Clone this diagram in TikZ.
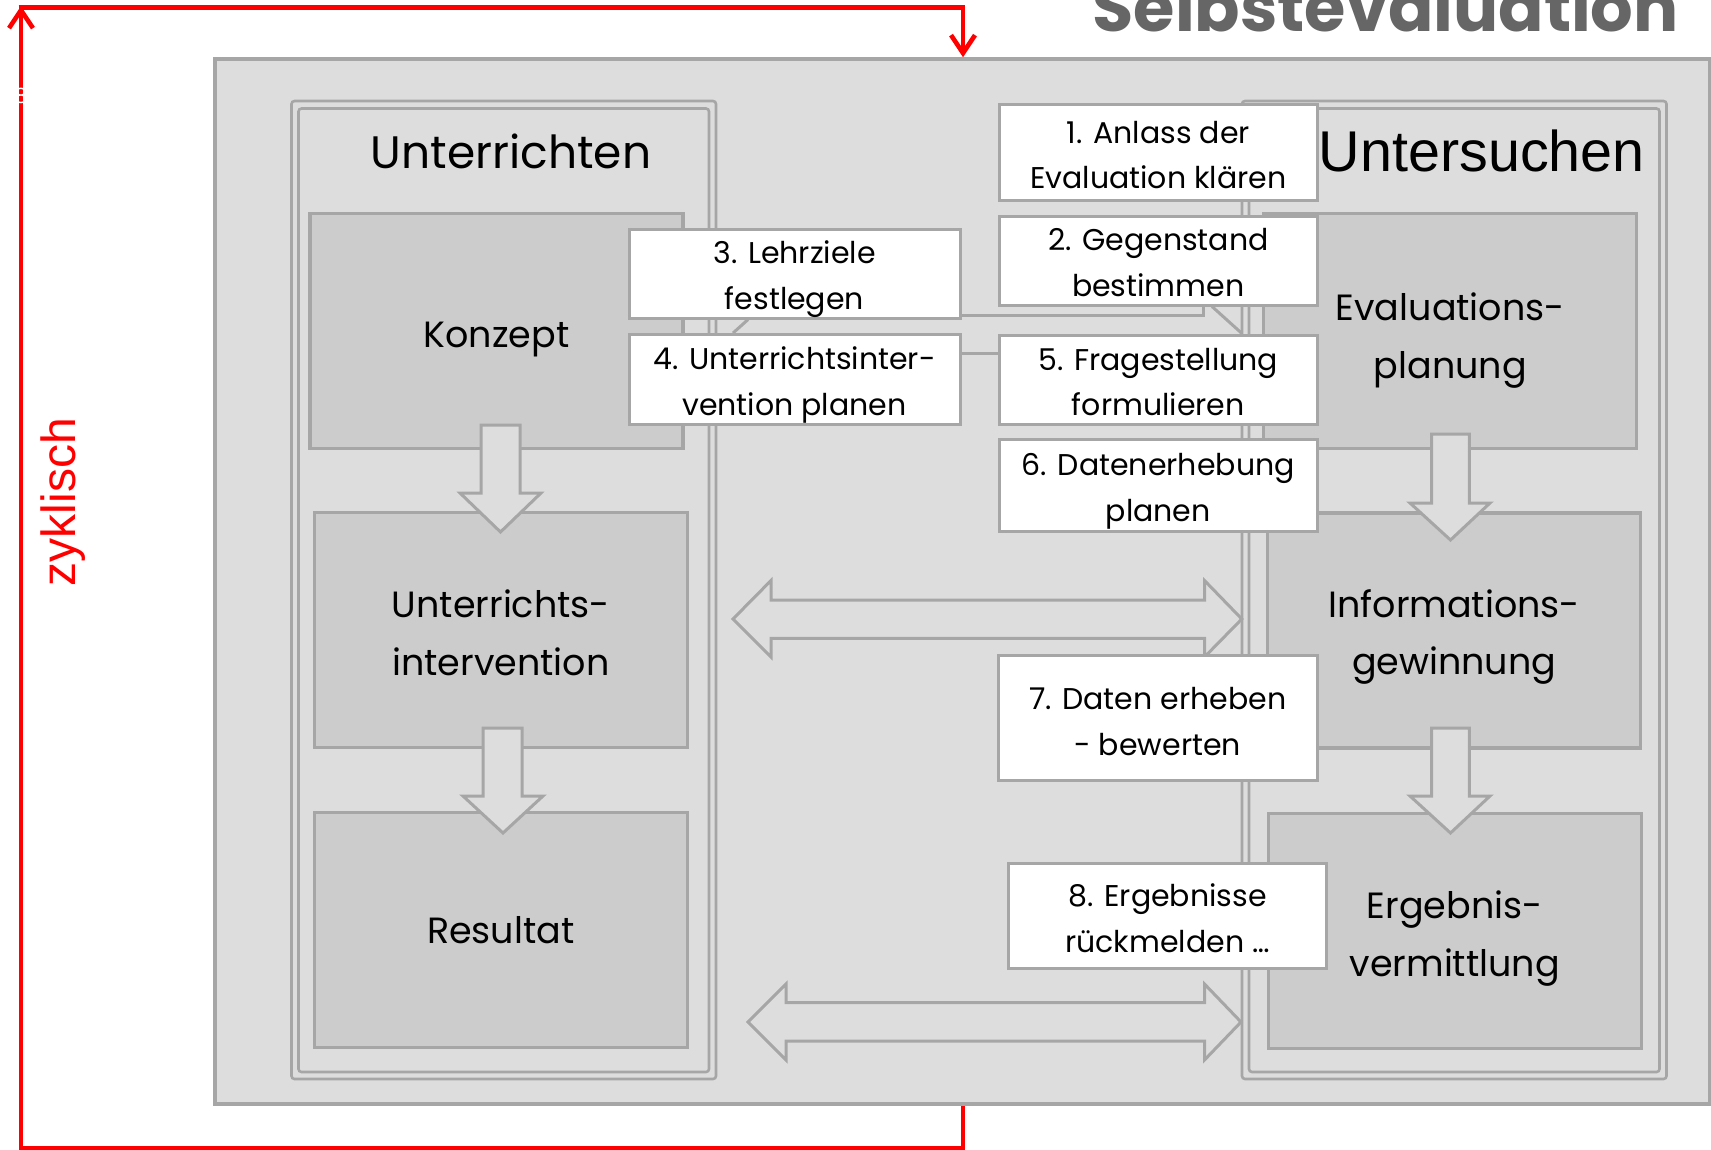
\documentclass[tikz,border=0pt]{standalone}
\usepackage{fontspec}
\setmainfont{Poppins}
\newfontfamily\arialf{Liberation Sans}
\usetikzlibrary{arrows.meta,calc}
\definecolor{bgfill}{HTML}{DDDDDD}
\definecolor{boxfill}{HTML}{CCCCCC}
\definecolor{edge}{HTML}{A6A6A6}
\definecolor{titlegray}{HTML}{666666}
\definecolor{cycred}{HTML}{FF0000}
\begin{document}
\begin{tikzpicture}[x=1pt,y=-1pt,
  bigbox/.style={draw=edge,fill=boxfill,line width=3.2pt,minimum width=373pt,minimum height=235pt,inner sep=0pt},
  bigtext/.style={inner sep=0pt,align=center,font=\fontsize{36.5}{57.8}\selectfont},
  stepbox/.style={draw=edge,fill=white,line width=3pt,inner sep=0pt,minimum width=317.5pt},
  steptext/.style={inner sep=0pt,align=center,font=\fontsize{30}{45.8}\selectfont},
  blockarrow/.style={draw=edge,fill=bgfill,line width=3pt,line join=miter},
  frameline/.style={draw=edge,line width=2.6pt,rounded corners=3pt},
  conn/.style={draw=edge,line width=3pt},
  cycline/.style={draw=cycred,line width=4.6pt}
]
\useasboundingbox (0,0) rectangle (1711,1149);
\fill[white] (0,0) rectangle (1711,1149);

% title
\node[anchor=base east,text=titlegray,inner sep=0pt,font=\fontsize{67}{67}\selectfont\bfseries] (title) at (1679,31.5) {Selbstevaluation};

% outer frame
\node[draw=edge,fill=bgfill,line width=3.5pt,inner sep=0pt,minimum width=1494.5pt,minimum height=1045pt] (frame) at (962.25,581.5) {};

% column frames
\draw[frameline] (291.5,101) rectangle (716,1079);
\draw[frameline] (298.5,108.5) rectangle (709,1072);
\draw[frameline] (1242,101) rectangle (1666.5,1079);
\draw[frameline] (1249,108.5) rectangle (1659.5,1072);

% column titles
\node[font=\fontsize{45.5}{45.5}\selectfont] (tunt) at (511,151.8) {Unterrichten};
\node[font=\arialf\fontsize{57.5}{57.5}\selectfont] (tuntersuchen) at (1481.8,150.6) {Untersuchen};

% big boxes
\node[bigbox] (konzept) at (496.5,331.2) {};
\node[bigbox] (interv) at (500.9,629.6) {};
\node[bigbox] (result) at (500.8,930.2) {};
\node[bigbox] (evalpl) at (1450.3,331.2) {};
\node[bigbox] (info) at (1454.2,630.5) {};
\node[bigbox] (ergeb) at (1454.8,931.2) {};
\node[bigtext] (konzeptT) at ($(konzept.center)+(0,8.7)$) {Konzept};
\node[bigtext] (intervT) at ($(interv.center)+(0,3.3)$) {Unterrichts-\\intervention};
\node[bigtext] (resultT) at (result.center) {Resultat};
\node[bigtext] (evalplT) at ($(evalpl.center)+(0,9.3)$) {Evaluations-\\planung};
\node[bigtext] (infoT) at ($(info.center)+(0,6.5)$) {Informations-\\gewinnung};
\node[bigtext] (ergebT) at ($(ergeb.center)+(0,7)$) {Ergebnis-\\vermittlung};

% block arrows (down)
\draw[blockarrow] (481,425) -- (520,425) -- (520,493) -- (541,493) -- (500.5,532) -- (460,493) -- (481,493) -- cycle;
\draw[blockarrow] (483,728) -- (522,728) -- (522,796) -- (543,796) -- (503,833) -- (463,796) -- (483,796) -- cycle;
\draw[blockarrow] (1431.7,434) -- (1469.3,434) -- (1469.3,503) -- (1490,503) -- (1450.5,540) -- (1410,503) -- (1431.7,503) -- cycle;
\draw[blockarrow] (1431.7,728) -- (1469.3,728) -- (1469.3,796) -- (1490,796) -- (1450.5,833) -- (1410,796) -- (1431.7,796) -- cycle;

% block arrows (double horizontal)
\draw[blockarrow] (733,619) -- (771,580.5) -- (771,600) -- (1204.5,600) -- (1204.5,580.5) -- (1241.8,619) -- (1204.5,657) -- (1204.5,638.4) -- (771,638.4) -- (771,657) -- cycle;
\draw[blockarrow] (748,1022) -- (786,984) -- (786,1002.7) -- (1204.5,1002.7) -- (1204.5,984) -- (1241,1022) -- (1204.5,1060) -- (1204.5,1041) -- (786,1041) -- (786,1060) -- cycle;

% step boxes
\node[stepbox,minimum height=96pt] (s1) at (1158.3,152.8) {};
\node[stepbox,minimum height=89pt] (s2) at (1158.3,260.5) {};
\node[stepbox,minimum width=331pt,minimum height=88.5pt] (s3) at (794.5,273.8) {};
\node[stepbox,minimum width=331pt,minimum height=89.5pt] (s4) at (794.5,379.3) {};
\node[stepbox,minimum height=89.5pt] (s5) at (1158.3,379.8) {};
\node[stepbox,minimum height=91.6pt] (s6) at (1158.3,485.6) {};
\node[stepbox,minimum width=318.6pt,minimum height=124.4pt] (s7) at (1157.7,718) {};
\node[stepbox,minimum width=318.6pt,minimum height=104.5pt] (s8) at (1167.6,915.8) {};
\node[steptext] (s1T) at ($(s1.center)+(0,2.2)$) {1. Anlass der\\Evaluation klären};
\node[steptext] (s2T) at ($(s2.center)+(0,2.2)$) {2. Gegenstand\\bestimmen};
\node[steptext] (s3T) at ($(s3.center)+(0,5.5)$) {3. Lehrziele\\festlegen};
\node[steptext] (s4T) at ($(s4.center)+(0,6)$) {4. Unterrichtsinter-\\vention planen};
\node[steptext] (s5T) at ($(s5.center)+(0,2.2)$) {5. Fragestellung\\formulieren};
\node[steptext] (s6T) at ($(s6.center)+(0,6)$) {6. Datenerhebung\\planen};
\node[steptext] (s7T) at ($(s7.center)+(0,3.3)$) {7. Daten erheben\\- bewerten};
\node[steptext] (s8T) at ($(s8.center)+(0,2.2)$) {8. Ergebnisse\\rückmelden …};

% connectors between step boxes
\coordinate (k1) at (1203.5,315);
\coordinate (k2) at (1212,0);
\coordinate (k3) at (1242,0);
\coordinate (k4) at (748,0);
\coordinate (k5) at (733,0);
\coordinate (k6) at (0,353);
\draw[conn] (s3.east |- k1) -- (k1) -- (k1 |- s2.south);
\draw[conn] (s2.south -| k2) -- (s5.north -| k3);
\draw[conn] (s3.south -| k4) -- (s4.north -| k5);
\draw[conn] (s4.east |- k6) -- (s5.west |- k6);

% cycle arrow
\coordinate (rx) at (963,0);
\draw[cycline,-{Straight Barb[length=18pt,width=24pt]}] (frame.south -| rx) -- (963,1148.5) -- (21,1148.5) -- (21,6);
\draw[cycline,-{Straight Barb[length=18pt,width=24pt]}] (18.7,7.5) -- (963,7.5) -- (frame.north -| rx);
\node[rotate=90,text=cycred,font=\arialf\fontsize{48}{48}\selectfont] (zyk) at (63,502) {zyklisch};
\node[text=white,inner sep=0pt,font=\arialf\fontsize{22}{22}\selectfont] (eight) at (21,96) {8};
\end{tikzpicture}
\end{document}
